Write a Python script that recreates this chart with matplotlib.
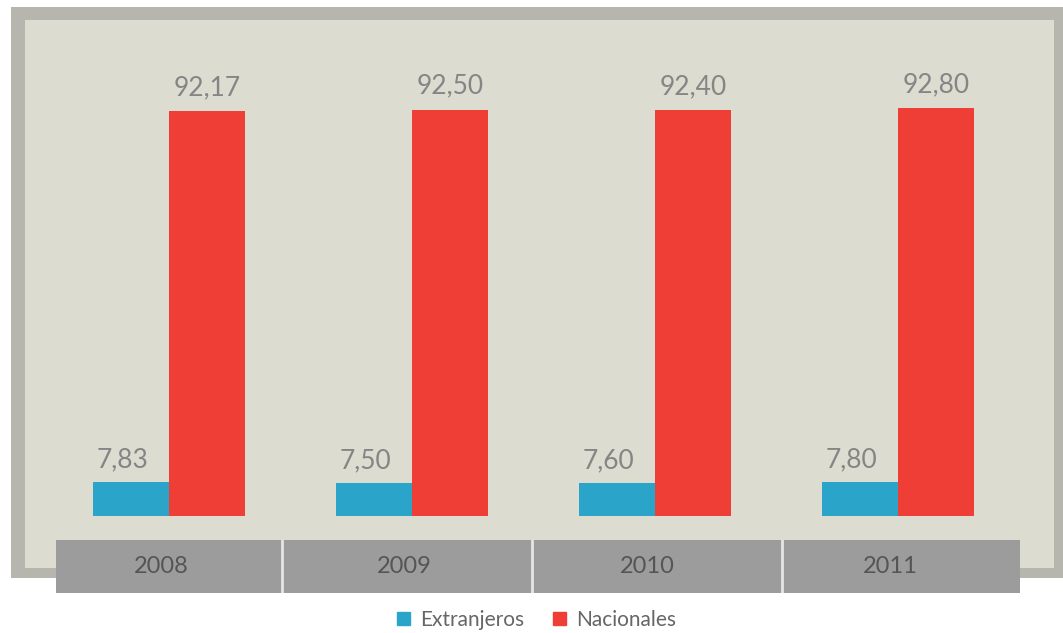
import matplotlib.pyplot as plt
from matplotlib.patches import Rectangle, Patch

years = ['2008', '2009', '2010', '2011']
extranjeros = [7.83, 7.50, 7.60, 7.80]
nacionales = [92.17, 92.50, 92.40, 92.80]
ext_labels = ['7,83', '7,50', '7,60', '7,80']
nac_labels = ['92,17', '92,50', '92,40', '92,80']

blue = '#2aa4c8'
red = '#ef3e36'
W, H = 1063, 633

plt.rcParams['font.family'] = ['Lato', 'DejaVu Sans']
fig = plt.figure(figsize=(10.63, 6.33), dpi=100)

# frame + inner panel (behind the axes)
fig.patches.append(Rectangle((11 / W, 55 / H), 1052 / W, 571 / H, transform=fig.transFigure,
                             facecolor='#b7b6ae', edgecolor='none', zorder=-2))
fig.patches.append(Rectangle((25 / W, 65 / H), 1029 / W, 548 / H, transform=fig.transFigure,
                             facecolor='#dcdcd0', edgecolor='none', zorder=-1))

# bars
ax = fig.add_axes([56 / W, (H - 516) / H, 964 / W, 496 / H])
ax.patch.set_alpha(0)
x = list(range(len(years)))
w = 0.3128
ax.bar([i - w / 2 for i in x], extranjeros, width=w, color=blue, label='Extranjeros')
ax.bar([i + w / 2 for i in x], nacionales, width=w, color=red, label='Nacionales')
for i in x:
    ax.annotate(ext_labels[i], (i - w / 2, extranjeros[i]), xytext=(-6, 7), textcoords='offset points',
                ha='center', va='bottom', fontsize=19, color='#858585')
    ax.annotate(nac_labels[i], (i + w / 2, nacionales[i]), xytext=(0, 8), textcoords='offset points',
                ha='center', va='bottom', fontsize=19, color='#858585')
ax.set_xlim(-0.465, 3.502)
ax.set_ylim(0, 112.9)
ax.axis('off')

# year band
bx = fig.add_axes([56 / W, (H - 593) / H, 964 / W, 53 / H])
bx.set_facecolor('#9c9c9c')
bx.set_xlim(-0.465, 3.502)
bx.set_ylim(0, 1)
for s in [0.465, 1.494, 2.523]:
    bx.axvline(s, color='#e6e6e6', lw=2)
for i, yr in enumerate(years):
    bx.text(i - 0.03, 0.5, yr, ha='center', va='center', fontsize=17, color='#555555')
bx.set_xticks([])
bx.set_yticks([])
for sp in bx.spines.values():
    sp.set_visible(False)

handles = [Patch(color=blue, label='Extranjeros'), Patch(color=red, label='Nacionales')]
fig.legend(handles=handles, loc='center', bbox_to_anchor=(0.505, 1 - 620 / H), ncol=2, frameon=False,
           fontsize=15, handlelength=0.6, handleheight=0.6, handletextpad=0.5, columnspacing=1.4,
           labelcolor='#666666')

fig.savefig('out.png', dpi=100)
